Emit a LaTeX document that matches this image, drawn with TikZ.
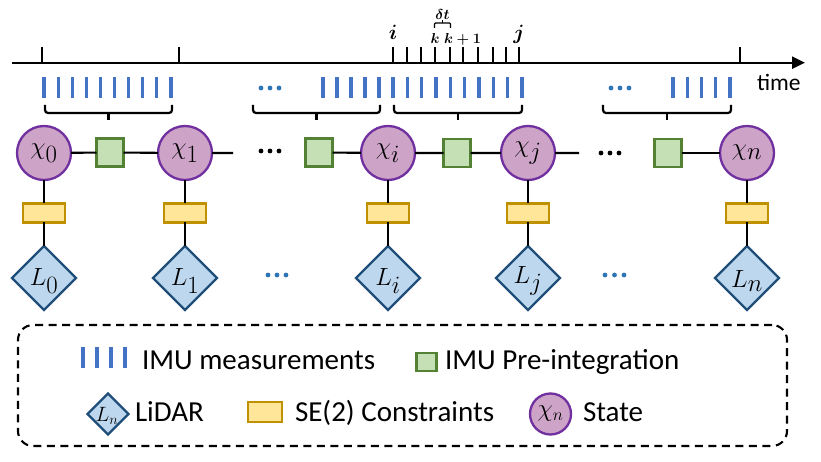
\documentclass[tikz,border=0pt]{standalone}
\usepackage{amsmath}
\usepackage{fontspec}
\setmainfont{Carlito}
\usetikzlibrary{shapes.geometric,arrows.meta}
\definecolor{imublue}{HTML}{4472C4}
\definecolor{dotblue}{HTML}{2E75B6}
\definecolor{statefill}{HTML}{CDA4C7}
\definecolor{statedraw}{HTML}{7030A0}
\definecolor{prefill}{HTML}{C5E0B4}
\definecolor{predraw}{HTML}{548235}
\definecolor{sefill}{HTML}{FFE699}
\definecolor{sedraw}{HTML}{BF9000}
\definecolor{lidfill}{HTML}{BDD7EE}
\definecolor{liddraw}{HTML}{1F4E79}
\tikzset{
  every node/.style={inner sep=0pt, outer sep=0pt},
  conn/.style={line width=2.1pt, black},
  tickline/.style={line width=2.2pt, black},
  imubar/.style={line width=3.2pt, imublue},
  bracel/.style={line width=2.2pt, black, rounded corners=3pt},
  statenode/.style={circle, draw=statedraw, fill=statefill, line width=2.3pt, minimum size=54pt, font=\fontsize{33}{33}\selectfont},
  prenode/.style={rectangle, draw=predraw, fill=prefill, line width=2.3pt, minimum width=27pt, minimum height=28pt},
  senode/.style={rectangle, draw=sedraw, fill=sefill, line width=2.3pt, minimum width=42pt, minimum height=19pt},
  lidnode/.style={diamond, aspect=1, draw=liddraw, fill=lidfill, line width=2.3pt, minimum width=64pt, minimum height=64pt},
  lidlab/.style={font=\fontsize{37}{37}\selectfont},
  legtext/.style={anchor=base west, font=\fontsize{29}{29}\selectfont},
  toplab/.style={anchor=base, font=\fontsize{20}{20}\selectfont},
  smalllab/.style={font=\fontsize{15.5}{15.5}\selectfont},
  legendbox/.style={draw, line width=2.1pt, dash pattern=on 8pt off 5.5pt, rounded corners=15pt},
}
\begin{document}
\begin{tikzpicture}[x=1pt,y=-1pt]
\useasboundingbox (0,0) rectangle (821,462);
% timeline
\coordinate (tstart) at (12,62.7);
\coordinate (tend) at (805,62.7);
\draw[line width=2.2pt, -{Triangle[length=13pt,width=12pt]}] (tstart) -- (tend);
\foreach \x in {42,179,740,393,407,421,435,450,463,478,493,506,519}
  \draw[tickline] (\x,47) -- (\x,62);
\node[toplab] (li) at (393,40) {$\boldsymbol{i}$};
\node[toplab] (lj) at (519,40) {$\boldsymbol{j}$};
\node[smalllab, anchor=base] (lk) at (435,44) {$\boldsymbol{k}$};
\node[smalllab, anchor=base west] (lk1) at (444,44) {$\boldsymbol{k+1}$};
\node[smalllab, anchor=base] (ldt) at (442.5,20) {$\boldsymbol{\delta t}$};
\draw[line width=1.3pt, rounded corners=1pt] (434.5,28) -- (434.5,23) -- (450.5,23) -- (450.5,28);
\draw[line width=1.3pt] (442.5,23) -- (442.5,20.5);
\node[anchor=base west, font=\fontsize{23.5}{23.5}\selectfont] (ltime) at (757,91) {time};
% IMU bars
\foreach \n in {0,...,9} \draw[imubar] ({44+\n*14.1},77) -- ({44+\n*14.1},98);
\foreach \n in {0,...,4} \draw[imubar] ({323+\n*14},77) -- ({323+\n*14},98);
\foreach \n in {0,...,9} \draw[imubar] ({393+\n*14.33},77) -- ({393+\n*14.33},98);
\foreach \n in {0,...,4} \draw[imubar] ({673+\n*14.25},77) -- ({673+\n*14.25},98);
\foreach \x in {261,270,279,611,620,629} \fill[dotblue] (\x,88) circle (2.4pt);
% braces
\foreach \a/\b in {45/172,253/380,394/522,603/731}{
  \draw[bracel] (\a,105) -- (\a,113) -- (\b,113) -- (\b,105);
  \draw[line width=2.2pt] ({(\a+\b)/2},113) -- ({(\a+\b)/2},120);
}
% states and pre-integration
\node[statenode] (X0) at (44,153) {$\chi_0$};
\node[statenode] (X1) at (185,153) {$\chi_1$};
\node[statenode] (Xi) at (388,153) {$\chi_i$};
\node[statenode] (Xj) at (528,153) {$\chi_j$};
\node[statenode] (Xn) at (747,153) {$\chi_n$};
\node[prenode] (P1) at (110,152.5) {};
\node[prenode] (P2) at (319,152.5) {};
\node[prenode] (P3) at (457,153) {};
\node[prenode] (P4) at (668,153) {};
\coordinate (e1) at (233,153);
\coordinate (e2) at (579,153);
\draw[conn] (X0) -- (P1) -- (X1) -- (e1);
\draw[conn] (P2) -- (Xi) -- (P3) -- (Xj) -- (e2);
\draw[conn] (P4) -- (Xn);
\foreach \x in {261,270,279} \fill (\x,151) circle (2.4pt);
\foreach \x in {601,610,619} \fill (\x,153) circle (2.4pt);
% SE(2) and LiDAR
\foreach \nm/\x/\lab in {0/44/0,1/185/1,i/388/i,j/528/j,n/747/n}{
  \node[senode] (S\nm) at (\x,213) {};
  \node[lidnode] (L\nm) at (\x,278) {};
  \node[lidlab] (LL\nm) at (\x,281) {$L_{\lab}$};
}
\draw[conn] (X0) -- (S0) -- (L0);
\draw[conn] (X1) -- (S1) -- (L1);
\draw[conn] (Xi) -- (Si) -- (Li);
\draw[conn] (Xj) -- (Sj) -- (Lj);
\draw[conn] (Xn) -- (Sn) -- (Ln);
\foreach \x in {268,277,286,605,614.5,624} \fill[dotblue] (\x,275) circle (2.4pt);
% legend
\node[legendbox, minimum width=769pt, minimum height=121pt] (legend) at (402.5,385.5) {};
\foreach \x in {83,97,111,125} \draw[imubar] (\x,347) -- (\x,368);
\node[legtext] (t1) at (142,369) {IMU measurements};
\node[rectangle, draw=predraw, fill=prefill, line width=2.3pt, minimum width=20pt, minimum height=18pt] (gP) at (426.5,362) {};
\node[legtext] (t2) at (445,369) {IMU Pre-integration};
\node[lidnode, minimum width=41pt, minimum height=41pt] (gL) at (108,414) {};
\node[font=\fontsize{20}{20}\selectfont] (gLl) at (107,415.5) {$L_n$};
\node[legtext] (t3) at (135,421) {LiDAR};
\node[senode, minimum width=34pt, minimum height=20pt] (gS) at (265,412) {};
\node[legtext] (t4) at (295,421) {SE(2) Constraints};
\node[statenode, minimum size=41pt, font=\fontsize{23}{23}\selectfont] (gX) at (550.5,414) {$\chi_n$};
\node[legtext] (t5) at (583,421) {State};
\end{tikzpicture}
\end{document}
